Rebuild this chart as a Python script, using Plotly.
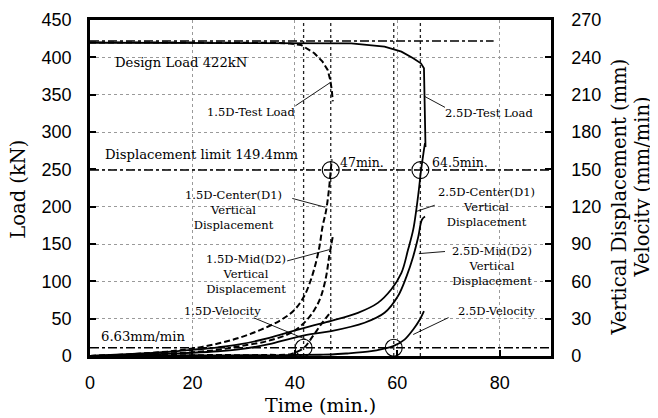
import plotly.graph_objects as go

# ---------------- data ----------------
# 1.5D test load (kN)
t_load_15 = [0, 10, 20, 30, 36, 39, 41.2, 43.8, 45.4, 46.4, 46.9, 47.2, 47.4]
load_15 = [420, 420, 420, 420, 419.5, 418.5, 416.6, 405.5, 394.2, 383.1, 369.7, 356.4, 341]
# 2.5D test load (kN)
t_load_25 = [0, 10, 20, 30, 41.2, 51, 57.5, 60.8, 63.1, 64.6, 65.2, 65.35, 65.5]
load_25 = [419.5, 419.5, 419.5, 419.5, 419.5, 418.8, 414.3, 407.6, 398.8, 392, 385.4, 330, 280]

# 1.5D vertical displacements (mm)
t_c15 = [0, 5, 10, 15, 20, 25, 29.4, 33.3, 37.3, 39.9, 41.8, 43.1, 44.1, 44.8, 45.4, 46.1, 46.6, 47.0, 47.2]
d_c15 = [0, 0.8, 2, 3.5, 6, 10, 15, 21, 29, 37, 48, 61, 75, 88, 104, 117, 132, 149, 158]
t_m15 = [0, 5, 10, 15, 20, 25, 29.4, 34.6, 39.2, 41.8, 43.8, 45.1, 46.1, 46.7, 47.4]
d_m15 = [0, 0.4, 1, 2, 3, 5, 8, 12, 18.6, 26.6, 37, 48, 64, 80, 96]
# 1.5D velocity (mm/min)
t_v15 = [0, 5, 10, 15, 20, 25, 30, 35, 38, 39.2, 40.5, 41.8, 43.5, 45.1, 47.1]
v_15 = [0, 0.6, 0.3, 0.8, 0.5, 0.9, 0.6, 0.9, 1.0, 1.5, 3.5, 6.6, 15.9, 25.3, 36]

# 2.5D vertical displacements (mm)
t_c25 = [0, 5, 10, 15, 20, 25, 29.4, 35, 39.2, 43.1, 47.1, 52.3, 56.2, 58.8, 60.8, 62.1, 63.1, 63.7, 64.2, 64.6, 65.1, 65.4]
d_c25 = [0, 1, 2, 3.2, 5, 7, 9.5, 14.5, 19.5, 24, 28.3, 34.7, 42.7, 53.4, 66.8, 85.5, 101.5, 117.5, 133.6, 148.3, 163, 171]
t_m25 = [0, 5, 10, 15, 20, 25, 29.4, 35, 39.2, 43.1, 47.1, 53.6, 57.5, 60.1, 61.8, 63.1, 64.1, 64.8, 65.4]
d_m25 = [0, 0.4, 1, 1.8, 2.6, 3.8, 5.5, 9.5, 14, 17.5, 20, 26.7, 34.7, 48, 64, 80, 96, 109.5, 112]
# 2.5D velocity (mm/min)
t_v25 = [0, 5, 10, 15, 20, 25, 30, 35, 40, 45, 47.1, 50, 54.9, 57, 59.2, 61.4, 63.1, 64.4, 65.2]
v_25 = [0, 0.3, 0.5, 0.3, 0.6, 0.4, 0.7, 0.5, 0.8, 1.0, 1.2, 2.0, 3.9, 5.5, 7.9, 13.2, 21.3, 29.3, 36]

# reference values
design_load = 422          # kN
design_line_end = 78.8     # min
disp_limit = 149.4         # mm
vel_limit = 6.63           # mm/min
ref_times = [41.7, 47.0, 59.3, 64.5]            # vertical reference lines (min)
circle_times = [41.7, 47.0, 59.3, 64.5]
circle_vals = [6.63, 149.4, 6.63, 149.4]         # on right axis

x_range = [0, 90]
load_range = [0, 450]
right_range = [0, 270]
x_ticks = [0, 20, 40, 60, 80]

SERIF = "DejaVu Serif"
SANS = "Liberation Sans, Arial"

fig = go.Figure()

# vertical reference lines
for t in ref_times:
    fig.add_trace(go.Scatter(x=[t, t], y=load_range, mode="lines",
                             line=dict(color="#222", width=1.3, dash="dot"),
                             hoverinfo="skip", showlegend=False))

# horizontal dash-dot reference lines
fig.add_trace(go.Scatter(x=[0, design_line_end], y=[design_load, design_load], mode="lines",
                         line=dict(color="black", width=1.5, dash="dashdot"), showlegend=False))
fig.add_trace(go.Scatter(x=x_range, y=[disp_limit, disp_limit], yaxis="y2", mode="lines",
                         line=dict(color="black", width=1.5, dash="dashdot"), showlegend=False))
fig.add_trace(go.Scatter(x=x_range, y=[vel_limit, vel_limit], yaxis="y2", mode="lines",
                         line=dict(color="black", width=1.5, dash="dashdot"), showlegend=False))

DASH = "6px,3px"
# loads
fig.add_trace(go.Scatter(x=t_load_15, y=load_15, mode="lines",
                         line=dict(color="black", width=2, dash=DASH), showlegend=False))
fig.add_trace(go.Scatter(x=t_load_25, y=load_25, mode="lines",
                         line=dict(color="black", width=1.8), showlegend=False))
# displacements / velocity (right axis)
for tx, vy, dsh in [(t_c15, d_c15, DASH), (t_m15, d_m15, DASH), (t_v15, v_15, DASH),
                    (t_c25, d_c25, None), (t_m25, d_m25, None), (t_v25, v_25, None)]:
    ln = dict(color="black", width=1.8)
    if dsh:
        ln["dash"] = dsh
        ln["width"] = 2
    fig.add_trace(go.Scatter(x=tx, y=vy, yaxis="y2", mode="lines", line=ln,
                             line_shape="spline", showlegend=False))

# circles
fig.add_trace(go.Scatter(x=circle_times, y=circle_vals, yaxis="y2", mode="markers",
                         marker=dict(symbol="circle-open", size=17, color="black",
                                     line=dict(width=1.1)), showlegend=False))

ann = []
def txt(x, y, s, size, yref="y"):
    ann.append(dict(x=x, y=y, xref="x", yref=yref, text=s, showarrow=False,
                    font=dict(family=SERIF, size=size, color="black"),
                    xanchor="center", yanchor="middle"))

def leader(x0, y0, x1, y1):
    ann.append(dict(x=x1, y=y1, ax=x0, ay=y0, xref="x", yref="y", axref="x", ayref="y",
                    text="", showarrow=True, arrowhead=0, arrowwidth=0.9,
                    arrowcolor="black", standoff=0, startstandoff=0))

txt(17.8, 393, "Design Load 422kN", 13.2)
txt(21.7, 269.5, "Displacement limit 149.4mm", 13.2)
txt(10.5, 26.5, "6.63mm/min", 13.2)
txt(31.4, 326.4, "1.5D-Test Load", 11.5)
txt(77.8, 325.6, "2.5D-Test Load", 11.5)
txt(53.1, 258.5, "47min.", 12.5)
txt(72.2, 258.5, "64.5min.", 12.5)
txt(46.5, -15.4, "41min.", 12)
txt(65.3, -11.4, "58min.", 12)
txt(28.0, 195.9, "1.5D-Center(D1)<br>Vertical<br>Displacement", 11.5)
txt(30.4, 110, "1.5D-Mid(D2)<br>Vertical<br>Displacement", 11.5)
txt(25.8, 59.9, "1.5D-Velocity", 11.5)
txt(77.5, 199.7, "2.5D-Center(D1)<br>Vertical<br>Displacement", 11.5)
txt(78.4, 121, "2.5D-Mid(D2)<br>Vertical<br>Displacement", 11.5)
txt(79.4, 59.9, "2.5D-Velocity", 11.5)

leader(39.8, 333.7, 47.1, 367.1)
leader(69.6, 331.9, 65.4, 347.4)
leader(39.2, 211.6, 45.9, 199.3)
leader(38.2, 126.8, 46.7, 142.4)
leader(31.7, 51.9, 42.2, 22.1)
leader(67.6, 202.6, 63.7, 193.6)
leader(69.6, 140.1, 64.2, 137.1)
leader(70.3, 52.4, 63.1, 28.8)

# axis titles
def title(x, y, s, size, angle=0):
    ann.append(dict(x=x, y=y, xref="paper", yref="paper", text=s, textangle=angle,
                    xanchor="center", yanchor="middle", showarrow=False,
                    font=dict(family=SERIF, size=size, color="black")))

title(-0.154, 0.495, "Load (kN)", 19.5, -90)
title(1.149, 0.474, "Vertical Displacement (mm)", 19.5, -90)
title(1.199, 0.504, "Velocity (mm/min)", 19.5, -90)
title(0.499, -0.146, "Time (min.)", 19)

axis_common = dict(ticks="inside", ticklen=6, tickwidth=1.5, tickcolor="black",
                   showline=True, linecolor="black", linewidth=2.5, zeroline=False,
                   automargin=False,
                   tickfont=dict(family=SANS, size=18, color="black"))

# the page body adds an 8px offset, so the figure is 650x410 with shifted margins
fig.update_layout(
    width=650, height=410,
    margin=dict(l=82, r=107, t=12, b=61.5),
    paper_bgcolor="white", plot_bgcolor="white",
    showlegend=False,
    xaxis=dict(range=x_range, tickvals=x_ticks, mirror=True, showgrid=True,
               gridcolor="#9a9a9a", griddash="dot", gridwidth=1, ticklabelstandoff=9,
               **axis_common),
    yaxis=dict(range=load_range, dtick=50, mirror=True, showgrid=True,
               gridcolor="#9a9a9a", griddash="dot", gridwidth=1, ticklabelstandoff=12, **axis_common),
    yaxis2=dict(range=right_range, dtick=30, overlaying="y", side="right", showgrid=False,
                ticklabelstandoff=14, **axis_common),
    annotations=ann,
)

fig.write_html("out.html")
